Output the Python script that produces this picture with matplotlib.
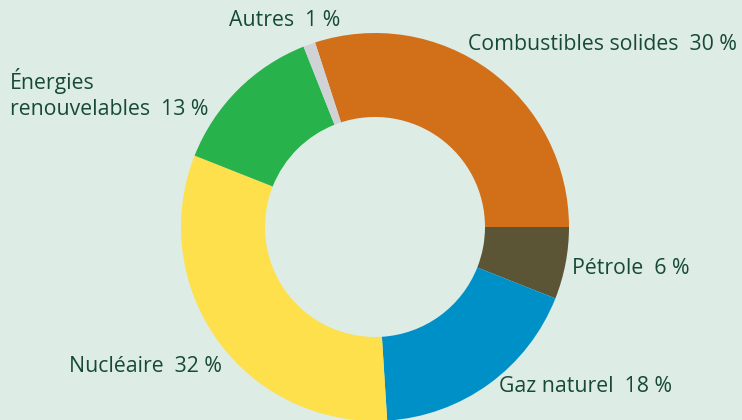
import matplotlib
matplotlib.use("Agg")
import matplotlib.pyplot as plt

categories = ["Combustibles solides", "Pétrole", "Gaz naturel", "Nucléaire",
              "Énergies\nrenouvelables", "Autres"]
values = [30, 6, 18, 32, 13, 1]
colors = ["#d2701a", "#5b5536", "#0090c8", "#fedf4c", "#27b24b", "#d0d3d6"]
# label anchor positions (pixels from top-left), left-aligned
label_pos = [(468, 45), (572, 268), (499, 387), (69, 367), (10, 94), (229, 20)]

W, H = 742, 420
bg = "#ddede5"
txt = "#174a36"

fig = plt.figure(figsize=(W / 100, H / 100), dpi=100, facecolor=bg)
ax = fig.add_axes([0, 0, 1, 1])
ax.set_facecolor(bg)

cx, cy, R = 375, 227, 194
ax.pie(values, colors=colors, startangle=108, counterclock=False,
       center=(cx, H - cy), radius=R, frame=True,
       wedgeprops=dict(width=84, linewidth=0))
ax.set_xlim(0, W)
ax.set_ylim(0, H)
ax.set_aspect("equal")
ax.axis("off")

for cat, v, (x, y) in zip(categories, values, label_pos):
    fig.text(x / W, 1 - y / H, f"{cat}  {v} %", ha="left", va="center",
             fontsize=15.3, color=txt, family=["Open Sans", "DejaVu Sans"],
             linespacing=1.3)

fig.savefig("out.png", dpi=100, facecolor=bg)
